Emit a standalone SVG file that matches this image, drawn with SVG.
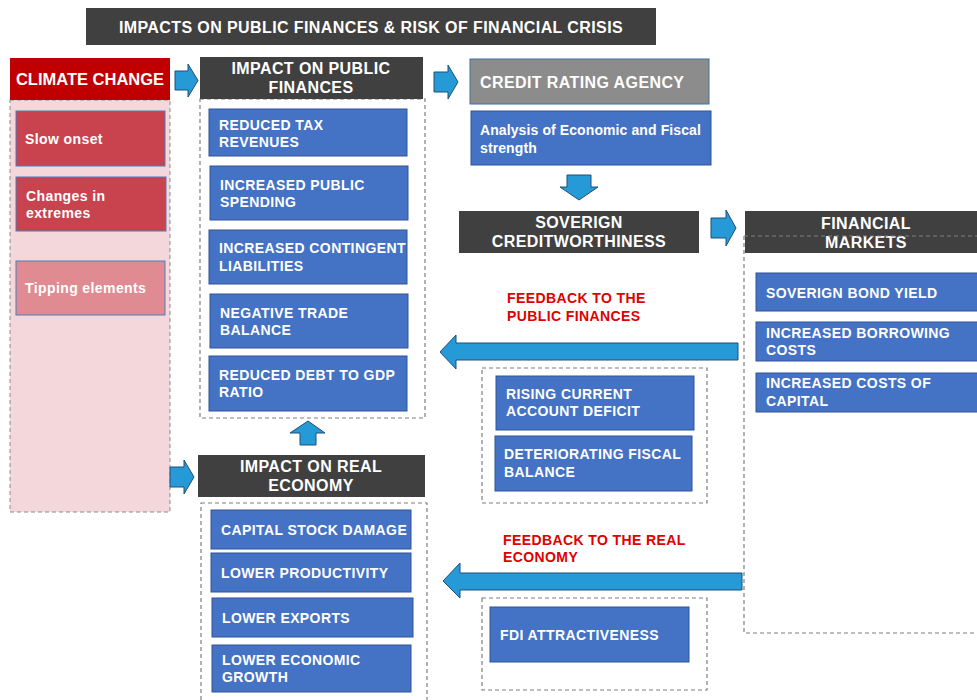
<svg xmlns="http://www.w3.org/2000/svg" width="977" height="700" viewBox="0 0 977 700">
<style>
text{font-family:"Liberation Sans",Arial,sans-serif;font-weight:bold;fill:#fff}
.t14{font-size:14px;letter-spacing:0.4px}
.hd{font-size:16px;letter-spacing:0.4px}
.c{text-anchor:middle}
.dark{fill:#404040}
.blue{fill:#4472C4;stroke:#2F5597;stroke-width:1}
.dash{fill:none;stroke:#7F7F7F;stroke-width:1.2;stroke-dasharray:4 3}
.arr{fill:#269AD6;stroke:#1F4E79;stroke-width:1}
</style>
<rect width="977" height="700" fill="#fff"/>
<g id="title">
<rect x="86" y="8" width="570" height="37" class="dark"/>
<text x="371" y="32.5" class="c" font-size="16" letter-spacing="0.4">IMPACTS ON PUBLIC FINANCES &amp; RISK OF FINANCIAL CRISIS</text>
</g>
<g id="climate-change">
<rect x="10" y="100" width="160" height="412" fill="#F3D7DA" stroke="#8C8C8C" stroke-width="1" stroke-dasharray="4 3"/>
<rect x="10" y="58" width="160" height="42" fill="#C00000"/>
<text x="90" y="85" class="c" font-size="16.5">CLIMATE CHANGE</text>
</g>
<g id="slow-onset">
<rect x="16" y="111" width="149" height="55" fill="#C9434F" stroke="#4A7EBB"/>
<text x="25" y="144" class="t14" letter-spacing="0.2">Slow onset</text>
</g>
<g id="changes-in-extremes">
<rect x="16" y="177" width="150" height="54" fill="#C9434F" stroke="#4A7EBB"/>
<text x="26" y="201" class="t14">Changes in</text>
<text x="26" y="218" class="t14">extremes</text>
</g>
<g id="tipping-elements">
<rect x="16" y="261" width="149" height="54" fill="#DF8B91" stroke="#4A7EBB"/>
<text x="25" y="293" class="t14">Tipping elements</text>
</g>
<g id="impact-public-finances">
<rect x="200" y="99" width="225" height="319" class="dash"/>
<rect x="200" y="57" width="223" height="42" class="dark"/>
<text x="311" y="74" class="c hd">IMPACT ON PUBLIC</text>
<text x="311" y="93" class="c hd">FINANCES</text>
</g>
<g id="reduced-tax-revenues">
<rect x="209" y="109" width="198" height="47" class="blue"/>
<text x="219" y="130" class="t14">REDUCED TAX</text>
<text x="219" y="147" class="t14">REVENUES</text>
</g>
<g id="increased-public-spending">
<rect x="210" y="166" width="198" height="54" class="blue"/>
<text x="220" y="190" class="t14">INCREASED PUBLIC</text>
<text x="220" y="207" class="t14">SPENDING</text>
</g>
<g id="increased-contingent-liabilities">
<rect x="209" y="230" width="198" height="54" class="blue"/>
<text x="219" y="253" class="t14" letter-spacing="0.2">INCREASED CONTINGENT</text>
<text x="219" y="271" class="t14">LIABILITIES</text>
</g>
<g id="negative-trade-balance">
<rect x="210" y="294" width="198" height="54" class="blue"/>
<text x="220" y="318" class="t14">NEGATIVE TRADE</text>
<text x="220" y="335" class="t14">BALANCE</text>
</g>
<g id="reduced-debt-to-gdp">
<rect x="209" y="356" width="198" height="55" class="blue"/>
<text x="219" y="380" class="t14">REDUCED DEBT TO GDP</text>
<text x="219" y="397" class="t14">RATIO</text>
</g>
<g id="impact-real-economy">
<rect x="201" y="503" width="226" height="205" class="dash"/>
<rect x="198" y="455" width="227" height="42" class="dark"/>
<text x="311" y="472" class="c hd">IMPACT ON REAL</text>
<text x="311" y="491" class="c hd">ECONOMY</text>
</g>
<g id="capital-stock-damage">
<rect x="211" y="510" width="200" height="39" class="blue"/>
<text x="221" y="535" class="t14">CAPITAL STOCK DAMAGE</text>
</g>
<g id="lower-productivity">
<rect x="211" y="553" width="200" height="39" class="blue"/>
<text x="221" y="578" class="t14">LOWER PRODUCTIVITY</text>
</g>
<g id="lower-exports">
<rect x="212" y="598" width="201" height="39" class="blue"/>
<text x="222" y="623" class="t14">LOWER EXPORTS</text>
</g>
<g id="lower-economic-growth">
<rect x="212" y="645" width="199" height="47" class="blue"/>
<text x="222" y="665" class="t14">LOWER ECONOMIC</text>
<text x="222" y="682" class="t14">GROWTH</text>
</g>
<g id="credit-rating-agency">
<rect x="470" y="59" width="239" height="45" fill="#8C8C8C" stroke="#41719C"/>
<text x="480" y="88" font-size="16" letter-spacing="0.4">CREDIT RATING AGENCY</text>
</g>
<g id="analysis">
<rect x="471" y="111" width="240" height="54" class="blue"/>
<text x="480" y="135" font-size="14" letter-spacing="0.1">Analysis of Economic and Fiscal</text>
<text x="480" y="153" font-size="14" letter-spacing="0.1">strength</text>
</g>
<g id="soverign-creditworthiness">
<rect x="459" y="211" width="240" height="42" class="dark"/>
<text x="579" y="228" class="c hd">SOVERIGN</text>
<text x="579" y="247" class="c hd">CREDITWORTHINESS</text>
</g>
<g id="financial-markets">
<rect x="745" y="211" width="232" height="42" class="dark"/>
<text x="866" y="229" class="c hd">FINANCIAL</text>
<text x="866" y="248" class="c hd">MARKETS</text>
<path d="M744 236H977M744 236V633H977" class="dash"/>
</g>
<g id="soverign-bond-yield">
<rect x="756" y="273" width="225" height="38" class="blue"/>
<text x="766" y="298" class="t14">SOVERIGN BOND YIELD</text>
</g>
<g id="increased-borrowing-costs">
<rect x="756" y="322" width="225" height="39" class="blue"/>
<text x="766" y="338" class="t14">INCREASED BORROWING</text>
<text x="766" y="355" class="t14">COSTS</text>
</g>
<g id="increased-costs-of-capital">
<rect x="756" y="373" width="225" height="39" class="blue"/>
<text x="766" y="388" class="t14">INCREASED COSTS OF</text>
<text x="766" y="406" class="t14">CAPITAL</text>
</g>
<g id="feedback-public-finances">
<text x="507" y="303" class="t14" style="fill:#E00000">FEEDBACK TO THE</text>
<text x="507" y="321" class="t14" style="fill:#E00000">PUBLIC FINANCES</text>
<rect x="482" y="368" width="225" height="135" class="dash"/>
</g>
<g id="rising-current-account-deficit">
<rect x="496" y="376" width="198" height="54" class="blue"/>
<text x="506" y="399" class="t14">RISING CURRENT</text>
<text x="506" y="416" class="t14">ACCOUNT DEFICIT</text>
</g>
<g id="deteriorating-fiscal-balance">
<rect x="495" y="436" width="197" height="55" class="blue"/>
<text x="504" y="459" class="t14">DETERIORATING FISCAL</text>
<text x="504" y="477" class="t14">BALANCE</text>
</g>
<g id="feedback-real-economy">
<text x="503" y="545" class="t14" style="fill:#E00000">FEEDBACK TO THE REAL</text>
<text x="503" y="562" class="t14" style="fill:#E00000">ECONOMY</text>
<rect x="482" y="598" width="225" height="92" class="dash"/>
</g>
<g id="fdi-attractiveness">
<rect x="490" y="607" width="199" height="55" class="blue"/>
<text x="500" y="640" class="t14">FDI ATTRACTIVENESS</text>
</g>
<g id="connectors">
<polygon class="arr" points="175,71 188,71 188,64 198,80.5 188,97 188,90 175,90"/>
<polygon class="arr" points="434,72 448,72 448,65 458,82 448,99 448,92 434,92"/>
<polygon class="arr" points="567,175 591,175 591,187 598,187 579,200 560,187 567,187"/>
<polygon class="arr" points="711,218 726,218 726,210 736,228 726,246 726,238 711,238"/>
<polygon class="arr" points="170,467 184,467 184,460 194,477 184,494 184,487 170,487"/>
<polygon class="arr" points="300,445 316,445 316,433 325,433 308,421 290,433 300,433"/>
<polygon class="arr" points="738,343 456,343 456,335 440,352 456,369 456,360 738,360"/>
<polygon class="arr" points="742,573 460,573 460,563 443,581 460,598 460,590 742,590"/>
</g>
</svg>
